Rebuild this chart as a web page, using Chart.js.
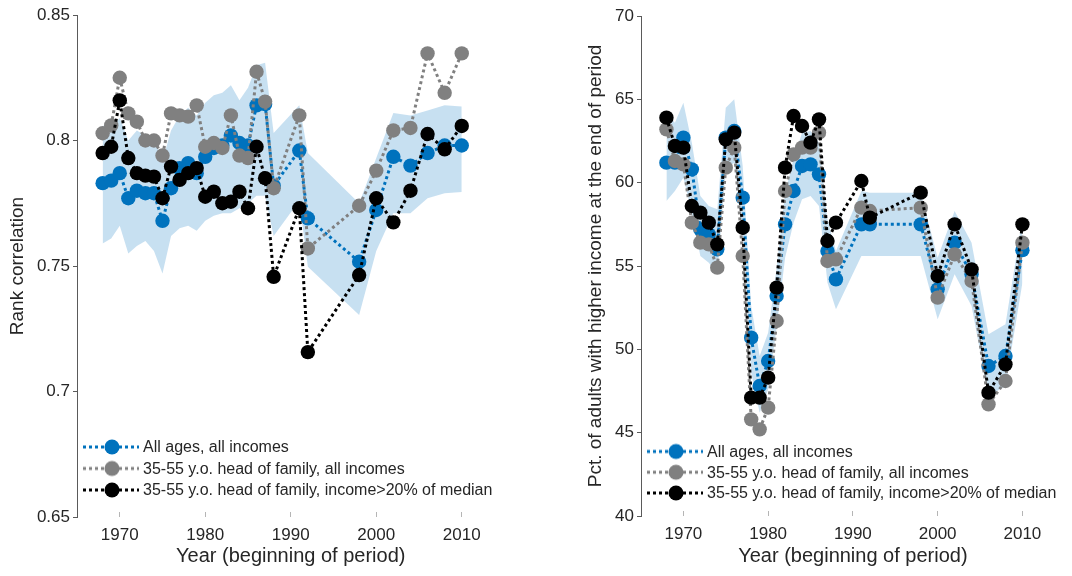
<!DOCTYPE html>
<html>
<head>
<meta charset="utf-8">
<script src="https://cdn.jsdelivr.net/npm/chart.js@4.4.1/dist/chart.umd.min.js"></script>
<style>
  html, body { margin: 0; padding: 0; background: #ffffff; }
  #wrap { position: relative; width: 1072px; height: 576px; }
  #wrap canvas { position: absolute; top: 0; }
</style>
</head>
<body>
<div id="wrap">
  <canvas id="rankChart" width="536" height="576" style="left:0;width:536px;height:576px"></canvas>
  <canvas id="pctChart" width="536" height="576" style="left:536px;width:536px;height:576px"></canvas>
</div>
<script>
// Beginning year of each period
const years = [1968, 1969, 1970, 1971, 1972, 1973, 1974, 1975, 1976, 1977, 1978, 1979, 1980,
  1981, 1982, 1983, 1984, 1985, 1986, 1987, 1988, 1991, 1992, 1998, 2000, 2002, 2004, 2006, 2008, 2010];

const seriesNames = [
  'All ages, all incomes',
  '35-55 y.o. head of family, all incomes',
  '35-55 y.o. head of family, income>20% of median'
];

// Rank correlation
const rankAll = [0.783, 0.784, 0.787, 0.777, 0.780, 0.779, 0.779, 0.768, 0.781, 0.789, 0.791, 0.787, 0.7935,
  0.797, 0.798, 0.802, 0.799, 0.798, 0.814, 0.8145, 0.782, 0.796, 0.769, 0.7517, 0.7723, 0.7935, 0.790, 0.795, 0.798, 0.798];
const rankMid = [0.8029, 0.806, 0.825, 0.8108, 0.8075, 0.800, 0.800, 0.794, 0.8108, 0.810, 0.8095, 0.814, 0.7975,
  0.799, 0.797, 0.810, 0.794, 0.793, 0.8274, 0.8155, 0.781, 0.810, 0.757, 0.774, 0.788, 0.804, 0.805, 0.8347, 0.819, 0.8347];
const rankMidHi = [0.795, 0.7975, 0.816, 0.793, 0.787, 0.786, 0.7856, 0.777, 0.7896, 0.7843, 0.787, 0.789, 0.7776,
  0.7796, 0.775, 0.7756, 0.7796, 0.773, 0.7975, 0.785, 0.7457, 0.773, 0.7157, 0.7464, 0.777, 0.7674, 0.780, 0.8026, 0.7965, 0.8058];
const rankBandHi = [0.806, 0.805, 0.809, 0.800, 0.804, 0.802, 0.801, 0.792, 0.804, 0.810, 0.813, 0.810, 0.815,
  0.818, 0.819, 0.822, 0.816, 0.821, 0.830, 0.831, 0.803, 0.814, 0.795, 0.775, 0.793, 0.811, 0.810, 0.812, 0.814, 0.8135];
const rankBandLo = [0.759, 0.761, 0.766, 0.755, 0.758, 0.760, 0.756, 0.747, 0.762, 0.765, 0.766, 0.764, 0.768,
  0.770, 0.771, 0.771, 0.773, 0.775, 0.778, 0.778, 0.762, 0.776, 0.7497, 0.7305, 0.756, 0.771, 0.771, 0.777, 0.779, 0.7795];

// Percent of adults with higher income at the end of the period
const pctAll = [61.2, 61.2, 62.7, 60.8, 57.2, 56.9, 56.0, 62.7, 63.1, 59.1, 50.7, 47.8, 49.3,
  53.2, 57.5, 59.5, 61.0, 61.1, 60.5, 55.9, 54.2, 57.5, 57.5, 57.5, 53.6, 56.4, 54.5, 49.0, 49.6, 55.95];
const pctMid = [63.2, 61.3, 61.1, 57.6, 56.4, 56.3, 54.9, 60.9, 62.1, 55.6, 45.8, 45.2, 46.5,
  51.7, 59.5, 61.7, 62.1, 62.1, 63.0, 55.3, 55.4, 58.5, 58.3, 58.5, 53.1, 55.7, 54.1, 46.7, 48.1, 56.4];
const pctMidHi = [63.9, 62.2, 62.1, 58.6, 58.2, 57.6, 56.3, 62.6, 63.0, 57.3, 47.1, 47.1, 48.3,
  53.7, 60.9, 64.0, 63.4, 62.4, 63.8, 56.5, 57.6, 60.1, 57.9, 59.4, 54.4, 57.5, 54.8, 47.4, 49.1, 57.5];
const pctBandHi = [64.2, 63.6, 64.8, 62.4, 59.2, 58.6, 58.4, 64.5, 65.0, 61.0, 52.6, 49.6, 51.0,
  54.9, 59.4, 61.4, 63.0, 63.1, 62.4, 57.8, 55.9, 59.5, 59.4, 59.4, 55.5, 58.3, 56.4, 50.9, 51.5, 57.9];
const pctBandLo = [58.9, 59.5, 60.3, 58.2, 55.6, 55.2, 54.5, 60.8, 61.2, 57.1, 48.6, 46.2, 47.6,
  51.3, 55.5, 57.6, 59.0, 59.2, 58.6, 54.0, 52.4, 55.6, 55.6, 55.6, 51.8, 54.5, 52.6, 47.2, 47.8, 54.0];

// Axis ticks
const xTicks = [1970, 1980, 1990, 2000, 2010];
const rankTicks = [0.65, 0.7, 0.75, 0.8, 0.85];
const pctTicks = [40, 45, 50, 55, 60, 65, 70];

const FONT = "'Liberation Sans', Arial, Helvetica, sans-serif";
const TEXT = '#262626';
const BLUE = '#0072bd';
const GRAY = '#808080';
const BLACK = '#000000';
const BAND = 'rgba(0,114,189,0.22)';

function toPoints(vals) {
  return years.map((yr, i) => ({ x: yr, y: vals[i] }));
}

function lineSeries(label, vals, color) {
  return {
    label,
    data: toPoints(vals),
    borderColor: color,
    backgroundColor: color,
    borderWidth: 3,
    borderDash: [3, 3],
    borderCapStyle: 'butt',
    pointRadius: 7.2,
    pointHoverRadius: 7.2,
    pointBorderWidth: 0,
    pointBackgroundColor: color,
    tension: 0,
    fill: false
  };
}

function bandSeries(vals, fill) {
  return {
    label: '',
    data: toPoints(vals),
    borderColor: 'rgba(0,0,0,0)',
    backgroundColor: BAND,
    borderWidth: 1,
    pointRadius: 0,
    pointHoverRadius: 0,
    tension: 0,
    fill
  };
}

// Legend sample: dotted stub with a filled marker in the middle
function keySample(color) {
  const c = document.createElement('canvas');
  c.width = 56; c.height = 18;
  const g = c.getContext('2d');
  g.strokeStyle = color;
  g.lineWidth = 3;
  g.setLineDash([3, 3]);
  g.beginPath(); g.moveTo(0, 9); g.lineTo(56, 9); g.stroke();
  g.fillStyle = color;
  g.beginPath(); g.arc(29, 9, 7.5, 0, Math.PI * 2); g.fill();
  return c;
}

function keyPlugin(firstRow, rowGap) {
  return {
    id: 'seriesKey',
    afterDatasetsDraw(chart) {
      const { ctx, chartArea: a } = chart;
      const ds = chart.data.datasets;
      const order = [2, 1, 0];
      ctx.save();
      ctx.font = '16px ' + FONT;
      ctx.fillStyle = TEXT;
      ctx.textBaseline = 'middle';
      ctx.textAlign = 'left';
      order.forEach((idx, row) => {
        const cy = a.bottom - firstRow + row * rowGap;
        const img = keySample(ds[idx].borderColor);
        ctx.drawImage(img, a.left + 6, cy - 9);
        ctx.fillStyle = TEXT;
        ctx.fillText(ds[idx].label, a.left + 66, cy + 1);
      });
      ctx.restore();
    }
  };
}

function makeChart(id, cfg) {
  return new Chart(document.getElementById(id), {
    type: 'line',
    data: {
      datasets: [
        lineSeries(seriesNames[2], cfg.hi, BLACK),
        lineSeries(seriesNames[1], cfg.mid, GRAY),
        lineSeries(seriesNames[0], cfg.all, BLUE),
        bandSeries(cfg.bandHi, '+1'),
        bandSeries(cfg.bandLo, false)
      ]
    },
    options: {
      responsive: false,
      animation: false,
      devicePixelRatio: 1,
      events: [],
      layout: { padding: cfg.padding },
      plugins: {
        legend: { display: false },
        tooltip: { enabled: false },
        filler: { propagate: false }
      },
      scales: {
        x: {
          type: 'linear',
          min: 1965,
          max: 2015,
          afterBuildTicks: s => { s.ticks = xTicks.map(v => ({ value: v })); },
          afterFit: s => { s.height = cfg.xHeight; },
          grid: { drawOnChartArea: false, drawTicks: true, tickLength: -5, color: '#b5b5b5', lineWidth: 1 },
          border: { display: false },
          ticks: {
            font: { family: FONT, size: 17 },
            color: TEXT,
            padding: 13,
            maxRotation: 0,
            autoSkip: false,
            callback: v => String(v)
          },
          title: {
            display: true,
            text: 'Year (beginning of period)',
            font: { family: FONT, size: 20 },
            color: TEXT,
            padding: { top: 0, bottom: 8 }
          }
        },
        y: {
          type: 'linear',
          min: cfg.yTicks[0],
          max: cfg.yTicks[cfg.yTicks.length - 1],
          afterBuildTicks: s => { s.ticks = cfg.yTicks.map(v => ({ value: v })); },
          afterFit: s => { s.width = cfg.yWidth; },
          grid: { drawOnChartArea: false, drawTicks: true, tickLength: 4, color: '#5a5a5a', lineWidth: 1 },
          border: { display: true, color: '#5a5a5a', width: 1 },
          ticks: {
            font: { family: FONT, size: 17 },
            color: TEXT,
            padding: 3,
            callback: v => String(Number(v.toFixed(2)))
          },
          title: {
            display: true,
            text: cfg.yTitle,
            font: { family: FONT, size: 19 },
            color: TEXT,
            padding: { top: 4, bottom: 0 }
          }
        }
      }
    },
    plugins: [keyPlugin(cfg.keyFirst, cfg.keyGap)]
  });
}

makeChart('rankChart', {
  all: rankAll, mid: rankMid, hi: rankMidHi, bandHi: rankBandHi, bandLo: rankBandLo,
  yTicks: rankTicks,
  yTitle: 'Rank correlation',
  padding: { left: 2.6, right: 31.5, top: 15, bottom: 0 },
  yWidth: 74.4,
  xHeight: 59,
  keyFirst: 70, keyGap: 21.5
});

makeChart('pctChart', {
  all: pctAll, mid: pctMid, hi: pctMidHi, bandHi: pctBandHi, bandLo: pctBandLo,
  yTicks: pctTicks,
  yTitle: 'Pct. of adults with higher income at the end of period',
  padding: { left: 44.6, right: 3.5, top: 16, bottom: 0 },
  yWidth: 60.4,
  xHeight: 60,
  keyFirst: 64.5, keyGap: 20.75
});
</script>
</body>
</html>
